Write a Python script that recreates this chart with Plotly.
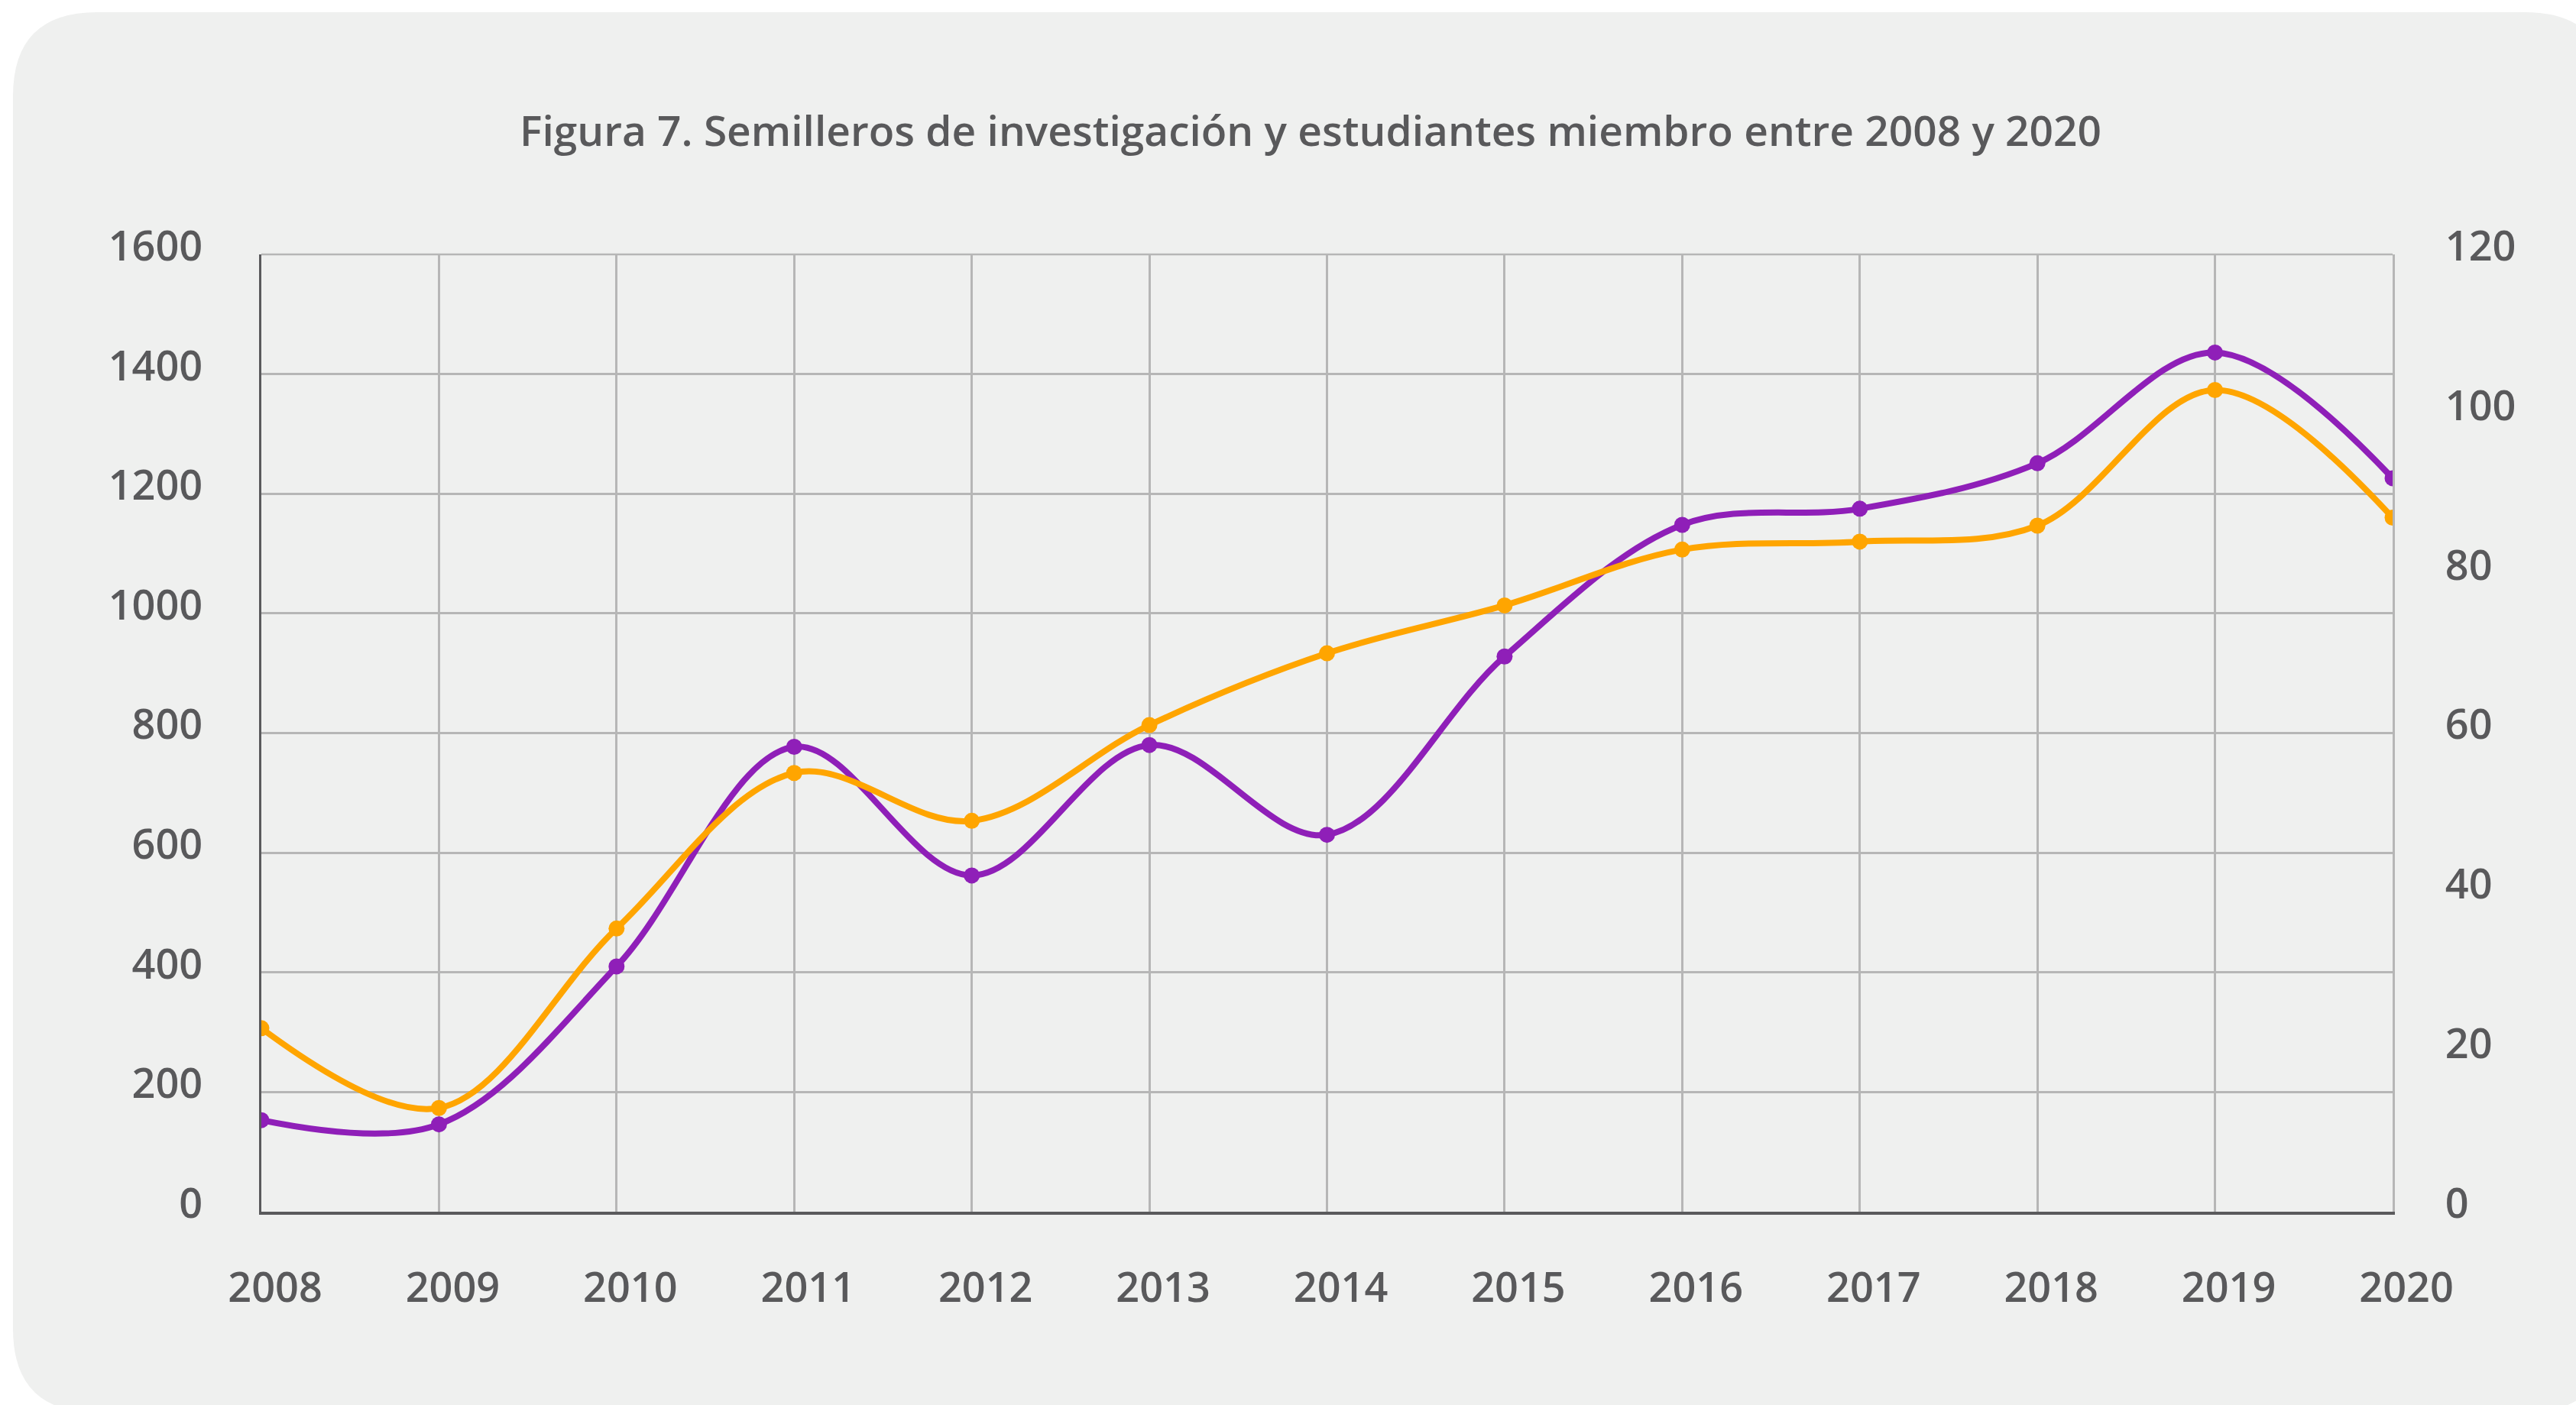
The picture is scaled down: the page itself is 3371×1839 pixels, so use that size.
import plotly.graph_objects as go

# Data: research seedbeds (semilleros) and member students per year
years = [2008, 2009, 2010, 2011, 2012, 2013, 2014, 2015, 2016, 2017, 2018, 2019, 2020]
estudiantes = [153, 146, 410, 777, 562, 780, 630, 928, 1148, 1175, 1251, 1436, 1226]
semilleros = [23, 13, 35.5, 55, 49, 61, 70, 76, 83, 84, 86, 103, 87]

left_ticks = [0, 200, 400, 600, 800, 1000, 1200, 1400, 1600]
right_ticks = [0, 20, 40, 60, 80, 100, 120]

title_text = "Figura 7. Semilleros de investigación y estudiantes miembro entre 2008 y 2020"

W, H = 3371, 1839
L, R, T, B = 342, 3131, 333, 1586  # plot area in pixels

PURPLE = "#8F1FB8"
ORANGE = "#FFA500"
TEXT = "#59595B"
GRID = "#B6B6B6"
AXIS = "#5A5A5C"
PANEL = "#EFF0EF"

fig = go.Figure()

fig.add_trace(go.Scatter(
    x=years, y=estudiantes, name="Estudiantes",
    mode="lines+markers", line=dict(color=PURPLE, width=8, shape="spline", smoothing=1),
    marker=dict(color=PURPLE, size=21), yaxis="y",
))
fig.add_trace(go.Scatter(
    x=years, y=semilleros, name="Semilleros",
    mode="lines+markers", line=dict(color=ORANGE, width=8, shape="spline", smoothing=1),
    marker=dict(color=ORANGE, size=21), yaxis="y2",
))

# Rounded background panel, expressed in paper coordinates
pw, ph = R - L, B - T
def px(x):
    return (x - L) / pw
def py(y):
    return (B - y) / ph

x0, y0, x1, y1, rad = 17, 16, 3414, 1849, 110
path = (
    f"M {px(x0 + rad)},{py(y0)} "
    f"L {px(x1 - rad)},{py(y0)} Q {px(x1)},{py(y0)} {px(x1)},{py(y0 + rad)} "
    f"L {px(x1)},{py(y1 - rad)} Q {px(x1)},{py(y1)} {px(x1 - rad)},{py(y1)} "
    f"L {px(x0 + rad)},{py(y1)} Q {px(x0)},{py(y1)} {px(x0)},{py(y1 - rad)} "
    f"L {px(x0)},{py(y0 + rad)} Q {px(x0)},{py(y0)} {px(x0 + rad)},{py(y0)} Z"
)
fig.add_shape(type="path", path=path, xref="paper", yref="paper",
              fillcolor=PANEL, line=dict(width=0), layer="below")

tick_font = dict(family="Open Sans", size=54, color=TEXT, weight=600)

fig.update_layout(
    width=W, height=H, autosize=False,
    margin=dict(l=L, r=W - R, t=T, b=H - B, pad=0),
    paper_bgcolor="white", plot_bgcolor="rgba(0,0,0,0)",
    showlegend=False,
    title=dict(text=title_text, x=1715 / W, xanchor="center", y=1 - 172 / H, yanchor="middle",
               font=dict(family="Open Sans", size=55, color=TEXT, weight=600)),
    xaxis=dict(
        range=[2008, 2020], tickmode="array", tickvals=years, ticktext=[str(y) for y in years],
        showgrid=True, gridcolor=GRID, gridwidth=2.5,
        showline=True, linecolor=AXIS, linewidth=4,
        zeroline=False, ticks="", tickfont=tick_font, ticklabelstandoff=49,
        ticklabelshift=18,
    ),
    yaxis=dict(
        range=[0, 1600], tickmode="array", tickvals=left_ticks,
        showgrid=True, gridcolor=GRID, gridwidth=2.5,
        showline=True, linecolor=AXIS, linewidth=3,
        zeroline=False, ticks="", tickfont=tick_font, ticklabelstandoff=63,
        ticklabelshift=-11,
    ),
    yaxis2=dict(
        range=[0, 120], tickmode="array", tickvals=right_ticks,
        overlaying="y", side="right", showgrid=False, zeroline=False,
        showline=True, linecolor=GRID, linewidth=3,
        ticks="", tickfont=tick_font, ticklabelstandoff=55,
        ticklabelshift=-11,
    ),
)

# Top border of the plot area
fig.add_shape(type="line", xref="paper", yref="paper", x0=0, x1=1, y0=1, y1=1,
              line=dict(color=GRID, width=2.5), layer="below")

fig.write_html("out.html")
